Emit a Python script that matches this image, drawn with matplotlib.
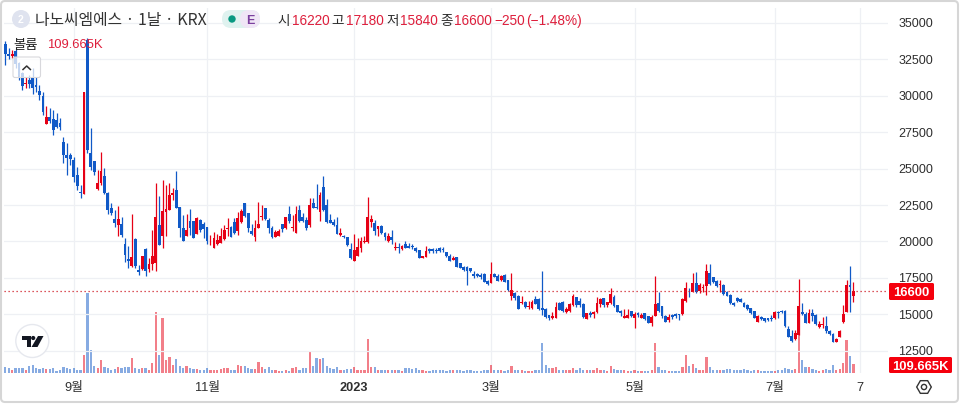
import matplotlib
matplotlib.use("Agg")
import numpy as np
import matplotlib.pyplot as plt
from matplotlib.patches import Circle, FancyBboxPatch, Polygon

opens = [33558,32900,32760,33050,32230,31540,30790,31080,31240,30740,
30330,30010,28080,28570,28400,28340,28100,26800,25930,25930,
25590,24560,23370,23280,33800,26050,25520,23600,23990,24490,
23340,22310,21530,21120,21190,19820,18760,18310,20140,18010,
18100,19475,18100,18420,18490,21120,20390,22040,22150,23185,
23530,22385,20940,20390,21400,21400,20480,21465,21170,20960,
19930,19565,19795,19865,20160,20850,20960,21350,20710,21306,
22610,21924,20733,20320,20940,21650,22268,21466,20894,20275,
20390,21168,20894,21878,20917,20596,22153,21649,21466,21123,
22611,22382,22038,23710,22497,21466,21306,21123,20459,20367,
20275,19473,18672,18993,19565,19955,19977,21351,21237,20825,
21054,20550,20046,20275,19565,19588,19451,19794,19680,19680,
19519,19405,18879,18947,19474,19474,19405,19519,19450,19245,
19016,18742,18901,18490,18260,18260,18146,17734,17734,17688,
17734,17276,17115,17757,17642,17344,17688,17344,16268,16428,
16245,15741,15856,15467,15444,16039,16039,15398,15352,14940,
14711,14757,15741,15810,15123,15214,15627,16153,15924,15672,
14642,15100,15008,15123,15695,16085,15627,15741,16199,15627,
15214,14756,14756,15191,14733,15054,14756,15054,14871,14413,
14894,15741,15558,14894,14596,14940,14985,15008,14986,15924,
16544,16544,17162,16589,16772,16956,17803,17528,17299,17001,
17001,16498,16314,15788,16085,16040,15788,15627,15398,15215,
14483,14825,14710,14710,14756,14710,15169,15214,15214,13978,
13497,13268,13566,15169,15008,14413,15100,14940,14093,14230,
14184,13841,13611,13107,13451,14482,15169,17000,16220]

highs = [33750,33260,33150,33200,32350,31650,31300,31430,31890,31300,
30740,30280,29320,29140,29020,28800,28450,27190,26740,26050,
25820,25130,23870,30280,34000,27760,25520,24900,26160,25020,
23410,22660,22150,22430,21650,20250,19680,21880,20200,18375,
19000,19520,18830,20780,23985,23140,24215,23870,23985,23640,
24835,22385,21810,21855,22220,21400,21700,21510,21305,20960,
20435,20665,20480,20895,21120,21630,21050,21580,22040,22200,
22610,21970,21190,21466,22725,22496,22268,21580,21054,20779,
20825,21191,21649,22428,21809,22428,22496,21924,21695,22954,
22954,23939,23412,24489,22886,21855,21512,21649,20894,20436,
20321,19863,20504,20206,20275,20367,23069,21809,21466,21054,
21100,20665,20550,20779,19977,19863,19748,20023,19863,19817,
19588,19405,19030,19680,19519,19519,19519,19634,19634,19290,
19105,18970,18950,18510,18306,18306,18190,17986,17802,17802,
17802,17344,18558,17849,17734,17688,17734,17344,17802,16497,
16314,16245,15900,15924,15970,16268,16085,17963,15398,14940,
15169,15856,15856,15900,15512,15741,16360,16199,16085,15741,
15100,15237,15214,16199,16130,16130,15855,16817,16314,15627,
15283,15329,15329,15214,15169,15123,15100,15100,14894,14940,
17619,16543,15558,14940,15008,15008,15100,15008,16085,17229,
16773,17849,17917,17116,17070,18444,18444,17574,17345,17345,
17047,16612,16360,15857,16154,16085,15857,15673,15444,15215,
14918,14870,14756,14710,14940,15214,15237,15283,15283,14184,
13909,13909,17390,15787,15168,15329,15329,14985,14550,14825,
14871,13909,13680,13336,13909,15627,17344,18306,17180]

lows = [32115,32530,32570,31900,31080,30400,30560,30510,30100,30280,
29710,28680,28040,28110,27300,27760,27650,25360,24560,25240,
24100,23530,23000,23280,26050,24900,24560,23530,23870,23230,
21860,21810,21010,20370,20320,18600,18150,18260,18150,17690,
18030,17640,17870,18030,17960,19750,19565,20390,22150,22840,
22270,20320,20025,20390,20435,20250,20480,20665,20250,19820,
19750,19565,19750,19865,20090,20390,20275,20480,20435,21240,
21700,20665,20435,20046,20894,21466,21466,20550,20206,20275,
20367,20665,20825,21283,20733,20596,21351,21351,20779,21008,
22268,22199,21397,22107,21283,21237,21054,20505,20367,20206,
19680,18764,18672,18993,19290,19863,19863,21008,20435,20367,
20505,20092,19977,19817,19405,19222,19405,19519,19519,19451,
19290,18840,18850,18901,19176,19222,19222,19290,19290,18950,
18650,18700,18215,18146,17986,17000,17917,17505,17574,17413,
17184,17001,17115,17528,17276,17299,17184,16612,15970,15970,
15352,15696,15398,15352,15352,15673,15306,14940,14757,14600,
14665,14711,15300,15169,15100,15169,15558,15512,15466,14710,
14642,14825,14710,15054,15512,15466,15512,15695,15512,15123,
14894,14710,14710,14825,14069,14825,14710,14620,14368,14207,
14894,15169,14710,14436,14482,14665,14710,14596,14940,15856,
16200,16498,16429,16429,16544,16314,17001,17162,16887,16544,
16315,16246,15696,15582,15857,15811,15467,15284,15009,14711,
14437,14596,14482,14550,14550,14665,14710,15054,14138,13405,
13108,13222,13566,14940,14367,14367,14550,14253,14024,14025,
13726,13566,13061,13085,13405,14413,15123,15124,15840]

closes = [32848,32760,32900,32200,31300,30690,30900,30810,30560,30600,
30050,28860,28570,28270,27650,27880,27880,25930,25700,25660,
24440,23820,23300,30280,26280,25130,24790,23990,24830,23300,
22150,21920,21240,21530,20410,19060,18670,18920,18310,17920,
18990,17960,18440,18990,21695,19750,22085,22220,23185,23345,
22310,20895,20025,20780,20940,20250,21630,20780,20850,20025,
19980,20205,20095,20370,20780,20940,20320,20550,21630,22085,
21740,20940,20505,20895,21170,21740,21512,20894,20275,20619,
20710,20848,21649,21397,20985,21878,21397,21397,20940,22497,
22313,22268,23183,22153,21306,21283,21123,20505,20550,20275,
19748,18832,19405,19588,20023,20023,21695,21512,20733,21054,
20550,20275,20367,20092,19634,19519,19680,19565,19565,19588,
19359,18879,18993,19336,19336,19360,19336,19360,19385,19016,
18672,18879,18260,18146,18030,17963,17963,17596,17642,17574,
17230,17070,17734,17574,17299,17642,17230,16657,16657,16131,
15352,15856,15467,15581,15810,15696,15352,15306,14826,14711,
14871,15512,15300,15214,15329,15695,16245,15627,15627,14825,
15054,14940,15123,15787,16016,15627,15810,16382,15558,15169,
15100,14894,14940,14894,15008,14940,14940,14665,14413,14825,
15695,15214,14894,14482,14825,14825,14870,14915,16016,16772,
16498,17116,16498,17001,16841,17963,17070,17185,16933,17070,
16360,16269,15742,15627,15925,15857,15513,15330,15055,14757,
14872,14665,14527,14596,14665,15169,15100,15123,14184,13451,
13176,13680,15558,14986,14413,15054,14871,14322,14322,14322,
13863,13634,13107,13268,13841,14985,16999,16850,16600]

volumes_k = [77,57,41,61,57,57,41,89,97,57,
49,61,49,49,57,28,37,77,61,45,
57,41,32,219,975,276,81,57,154,77,
61,32,49,69,61,69,73,179,57,49,
57,57,41,122,743,215,670,154,191,97,
171,89,61,81,57,49,49,32,41,65,
41,41,32,49,57,57,41,41,93,89,
81,61,49,49,134,73,53,73,41,41,
24,24,37,24,61,69,41,57,57,260,
81,183,171,183,81,61,53,73,32,41,
45,49,73,32,32,32,414,73,73,41,
41,32,32,41,32,32,28,61,57,49,
61,32,32,24,24,32,41,32,32,24,
41,32,32,41,24,32,41,24,24,24,
32,32,97,41,41,32,24,41,89,41,
41,32,24,24,24,32,41,365,97,61,
61,73,41,32,32,41,61,41,57,41,
32,32,41,61,32,32,24,81,49,41,
32,32,24,24,32,24,24,24,24,32,
361,69,41,32,24,24,24,24,69,215,
89,114,57,41,41,195,73,41,41,32,
41,49,49,32,32,32,49,41,24,32,
32,24,24,24,24,24,32,41,61,53,
41,49,507,158,69,69,49,41,24,32,
49,41,101,32,49,122,406,211,110]

price_ticks = [12500,15000,17500,20000,22500,25000,27500,30000,32500,35000]
time_tick_bars = [20,59,102,142,184,225,250]
time_tick_labels = ["9월","11월","2023","3월","5월","7월","7"]
last_close = 16600
last_volume_label = "109.665K"

RED = "#e60015"
BLUE = "#1059c7"
GRID = "#eef0f4"
TXT = "#2e2e2e"
LEG_RED = "#de1f3c"
W, H = 960, 404
plt.rcParams["font.family"] = ["Noto Sans CJK KR", "DejaVu Sans"]
LAT = ["Liberation Sans", "Noto Sans CJK KR"]

fig = plt.figure(figsize=(W/100, H/100), dpi=100, facecolor="white")
pane_l, pane_r, pane_t, pane_b = 4, 888, 8, 373
ax = fig.add_axes([pane_l/W, 1-pane_b/H, (pane_r-pane_l)/W, (pane_b-pane_t)/H])
ax2 = ax.twinx()

idx = np.arange(len(closes))
o, h, l, c = map(np.array, (opens, highs, lows, closes))
colors = np.where(c >= o, RED, BLUE)

x_px0, x_step = 5.3, 3.42
ax.set_xlim((pane_l-x_px0)/x_step, (pane_r-x_px0)/x_step)
p_per_px = 2500/36.4
ax.set_ylim(35000-(pane_b-23)*p_per_px, 35000-(pane_t-23)*p_per_px)
ax2.set_ylim(0, (pane_b-pane_t)*12.18)
ax2.set_yticks([])
ax2.patch.set_alpha(0)
ax.set_zorder(2); ax2.set_zorder(1)
ax.patch.set_alpha(0)
for a in (ax, ax2):
    for s in a.spines.values():
        s.set_visible(False)

for b in time_tick_bars:
    ax2.axvline(b, color=GRID, linewidth=0.9, zorder=0)
ax2.bar(idx, volumes_k, width=0.66, color=colors, alpha=0.5, linewidth=0, zorder=2)

for p in price_ticks:
    ax.axhline(p, color=GRID, linewidth=0.9, zorder=0)
ax.vlines(idx, l, h, colors=colors, linewidth=0.9, zorder=3)
ax.bar(idx, np.maximum(np.abs(c-o), 50), bottom=np.minimum(o, c), width=0.82,
       color=colors, linewidth=0, zorder=4)
ax.axhline(last_close, color="#d0202a", linewidth=0.9, dashes=(1, 2.2), zorder=5)

ax.set_yticks(price_ticks)
ax.yaxis.tick_right()
ax.tick_params(axis="y", length=0, pad=7.5, labelsize=9, labelcolor=TXT)
ax.set_xticks(time_tick_bars)
ax.set_xticklabels(time_tick_labels)
ax.tick_params(axis="x", length=0, pad=6.5, labelsize=9.2, labelcolor=TXT)
for t in ax.get_yticklabels():
    t.set_family(LAT)
for t, s in zip(ax.get_xticklabels(), time_tick_labels):
    t.set_family(LAT)
    if s == "2023":
        t.set_fontweight("bold")

# chrome in pixel coordinates
ov = fig.add_axes([0, 0, 1, 1], zorder=10)
ov.set_xlim(0, W); ov.set_ylim(H, 0); ov.axis("off")
ov.add_patch(FancyBboxPatch((1, 1), W-3, H-3, boxstyle="round,pad=0,rounding_size=4",
                            fc="none", ec="#d6d6d6", lw=1.5))
ov.add_patch(Circle((21, 19), 9, fc="#dfe3ef", ec="none"))
ov.text(21, 19, "2", color="white", fontsize=7.5, ha="center", va="center_baseline", family=LAT, fontweight="bold")
ov.text(35, 19, "나노씨엠에스 · 1날 · KRX", color="#333333", fontsize=11.4, ha="left", va="center_baseline")
ov.add_patch(FancyBboxPatch((222, 10), 38, 18, boxstyle="round,pad=0,rounding_size=9", fc="#dff2ef", ec="none"))
ov.add_patch(FancyBboxPatch((240, 10), 20, 18, boxstyle="round,pad=0,rounding_size=9", fc="#f0e6f6", ec="none"))
ov.add_patch(Circle((232, 19), 3.7, fc="#089981", ec="none"))
ov.text(250, 19, "E", color="#7b3f9e", fontsize=9, fontweight="bold", ha="center", va="center_baseline", family=LAT)
for xp, s, col in [(277, "시", TXT), (292, "16220", LEG_RED), (331, "고", TXT), (346, "17180", LEG_RED),
                   (386, "저", TXT), (400, "15840", LEG_RED), (440, "종", TXT), (454, "16600", LEG_RED),
                   (494, "−250", LEG_RED), (526, "(−1.48%)", LEG_RED)]:
    ov.text(xp, 19.5, s, color=col, fontsize=9.8, ha="left", va="center_baseline", family=LAT)
ov.text(13, 43, "볼륨", color="#222222", fontsize=9.6, ha="left", va="center_baseline")
ov.text(47, 43.5, last_volume_label, color=LEG_RED, fontsize=9.4, ha="left", va="center_baseline", family=LAT)
ov.add_patch(FancyBboxPatch((13, 57), 27.5, 20.5, boxstyle="round,pad=0,rounding_size=2",
                            fc=(1, 1, 1, 0.75), ec="#d8d8dc", lw=0.8))
ov.plot([23, 26.7, 30.4], [69.5, 66, 69.5], color="#333333", lw=1.1)
ov.add_patch(Circle((32.3, 341), 16.5, fc="white", ec="#e6e8ee", lw=1))
ov.add_patch(Polygon([(22, 336), (31, 336), (31, 347), (27, 347), (27, 340), (22, 340)], fc="#131722", ec="none"))
ov.add_patch(Circle((33.2, 338), 2.1, fc="#131722", ec="none"))
ov.add_patch(Polygon([(38, 336), (43.5, 336), (37.5, 347), (31.5, 347)], fc="#131722", ec="none"))
ov.add_patch(FancyBboxPatch((889, 283), 45, 17, boxstyle="round,pad=0,rounding_size=1.5", fc="#f5000d", ec="none"))
ov.text(911.5, 291.7, f"{last_close}", color="white", fontsize=9.4, fontweight="bold", ha="center", va="center_baseline", family=LAT)
ov.add_patch(FancyBboxPatch((889, 357), 63, 16, boxstyle="round,pad=0,rounding_size=1.5", fc="#f5000d", ec="none"))
ov.text(920.5, 365.2, last_volume_label, color="white", fontsize=9.4, fontweight="bold", ha="center", va="center_baseline", family=LAT)
ang = np.deg2rad(np.arange(0, 360, 60))
ov.add_patch(Polygon(np.c_[924+7.3*np.cos(ang), 387+7.3*np.sin(ang)], fc="none", ec="#333333", lw=1.0))
ov.add_patch(Circle((924, 387), 2.6, fc="none", ec="#333333", lw=1.0))

fig.savefig("out.png", dpi=100)
